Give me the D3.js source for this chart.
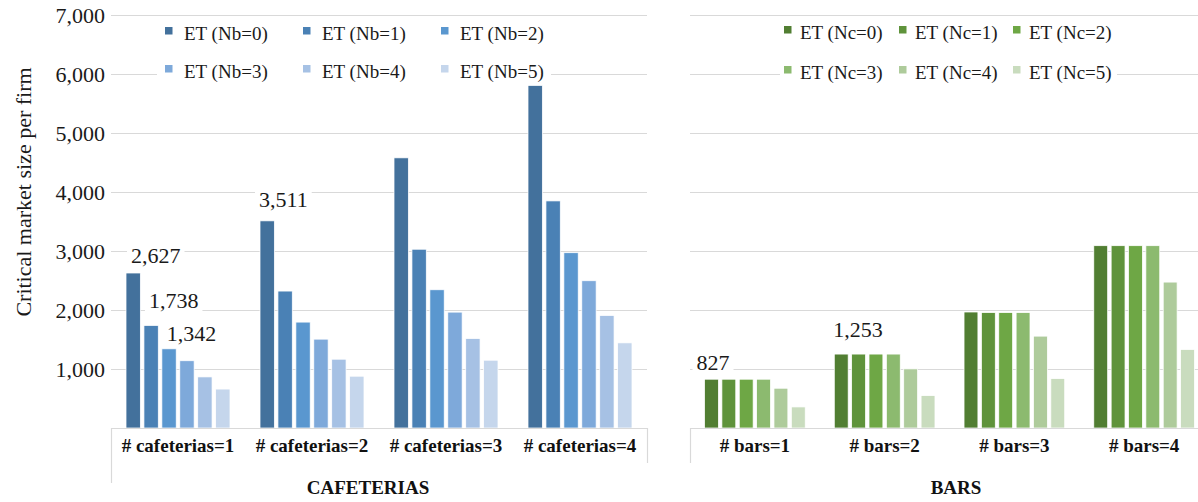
<!DOCTYPE html>
<html>
<head>
<meta charset="utf-8">
<script src="https://cdn.jsdelivr.net/npm/d3@7/dist/d3.min.js"></script>
<style>
  html, body { margin: 0; padding: 0; background: #fff; }
  svg { display: block; }
  svg text { font-family: "Liberation Serif", "Times New Roman", Times, "DejaVu Serif", serif !important; }
</style>
</head>
<body>
<svg id="chart" width="1198" height="502"></svg>
<script>
// Categories and series
const cafCategories = ["# cafeterias=1", "# cafeterias=2", "# cafeterias=3", "# cafeterias=4"];
const barCategories = ["# bars=1", "# bars=2", "# bars=3", "# bars=4"];
const cafSeries = ["ET (Nb=0)", "ET (Nb=1)", "ET (Nb=2)", "ET (Nb=3)", "ET (Nb=4)", "ET (Nb=5)"];
const barSeries = ["ET (Nc=0)", "ET (Nc=1)", "ET (Nc=2)", "ET (Nc=3)", "ET (Nc=4)", "ET (Nc=5)"];

// Critical market size per firm, one row per category, one value per series
const cafValues = [
  [2627, 1738, 1342, 1140, 866, 660],
  [3511, 2321, 1795, 1506, 1166, 878],
  [4579, 3030, 2343, 1964, 1516, 1149],
  [5806, 3849, 2971, 2496, 1907, 1443]
];
const barValues = [
  [827, 827, 827, 827, 674, 357],
  [1253, 1253, 1253, 1253, 1002, 549],
  [1966, 1956, 1956, 1956, 1557, 837],
  [3090, 3090, 3090, 3090, 2473, 1330]
];

const yTicks = [1000, 2000, 3000, 4000, 5000, 6000, 7000];
const groupTitles = ["CAFETERIAS", "BARS"];
const yTitle = "Critical market size per firm";

const cafColors = ["#43719c", "#4a81b5", "#5a97cf", "#7ea9da", "#a6c1e4", "#c5d6ec"];
const barColors = ["#517e32", "#5f933b", "#6ea745", "#8cba6f", "#aecb9b", "#c9dcbe"];

const svg = d3.select("#chart");
const fmt = d3.format(",");
const gridColor = "#d9d9d9";
const serif = "'Liberation Serif', 'Times New Roman', serif";

const y = d3.scaleLinear().domain([0, 7000]).range([428, 15]);

// Y axis tick labels (no axis line)
const yAxis = svg.append("g")
  .attr("transform", "translate(105,0)")
  .call(d3.axisLeft(y).tickValues(yTicks).tickSize(0).tickPadding(0).tickFormat(fmt))
  .attr("font-family", serif);
yAxis.select(".domain").remove();
yAxis.selectAll("text")
  .attr("font-size", 22)
  .attr("fill", "#1a1a1a");

// Y axis title
svg.append("text")
  .attr("transform", "translate(31,192) rotate(-90)")
  .attr("text-anchor", "middle")
  .attr("font-size", 22)
  .attr("fill", "#1a1a1a")
  .text(yTitle);

const panels = [
  { cats: cafCategories, series: cafSeries, values: cafValues, colors: cafColors,
    x0: 111, x1: 647, clipRight: 647, leftTickBottom: 483, rightTickBottom: 463,
    title: groupTitles[0], titleX: 368,
    legend: { cols: [165, 303, 441], textDx: 19, rows: [33, 71], box: [157, 20, 394, 63] },
    labels: [ { g: 0, s: 0, dx: 5, dy: -10 }, { g: 0, s: 1, dx: 5, dy: -17 },
              { g: 0, s: 2, dx: 5, dy: -8 }, { g: 1, s: 0, dx: -1, dy: -14 } ] },
  { cats: barCategories, series: barSeries, values: barValues, colors: barColors,
    x0: 690, x1: 1209, clipRight: 1198, leftTickBottom: 463, rightTickBottom: 463,
    title: groupTitles[1], titleX: 956,
    legend: { cols: [784, 899, 1013], textDx: 16, rows: [32, 72], box: [780, 20, 337, 63] },
    labels: [ { g: 0, s: 0, dx: -8, dy: -9 }, { g: 1, s: 0, dx: -1, dy: -17 } ] }
];

panels.forEach(p => {
  const g = svg.append("g");
  const x0 = d3.scaleBand().domain(p.cats).range([p.x0, p.x1]).padding(0);
  const bw = x0.bandwidth();
  const x1 = d3.scaleBand().domain(d3.range(p.series.length))
    .range([bw * 0.112, bw * 0.888]).paddingInner(0.2).paddingOuter(0);

  // Horizontal gridlines
  const grid = g.append("g")
    .attr("transform", `translate(${p.x0},0)`)
    .call(d3.axisLeft(y).tickValues(yTicks).tickSize(-(p.clipRight - p.x0)).tickFormat(""));
  grid.select(".domain").remove();
  grid.selectAll("line").attr("stroke", gridColor).attr("stroke-width", 1.2);

  // Legend backing (sits under the bars)
  const L = p.legend;
  g.append("rect")
    .attr("x", L.box[0]).attr("y", L.box[1])
    .attr("width", L.box[2]).attr("height", L.box[3])
    .attr("fill", "#fff");

  // Bars
  p.values.forEach((row, gi) => {
    g.append("g")
      .attr("transform", `translate(${x0(p.cats[gi])},0)`)
      .selectAll("rect")
      .data(row)
      .join("rect")
      .attr("x", (d, i) => x1(i))
      .attr("width", x1.bandwidth())
      .attr("y", d => y(d))
      .attr("height", d => y(0) - y(d))
      .attr("fill", (d, i) => p.colors[i])
      .attr("stroke", "#ffffff")
      .attr("stroke-width", 0.75);
  });

  // Category axis frame
  g.append("line")
    .attr("x1", p.x0).attr("x2", Math.min(p.x1, p.clipRight))
    .attr("y1", y(0) + 0.5).attr("y2", y(0) + 0.5)
    .attr("stroke", gridColor).attr("stroke-width", 1.2);
  g.append("line")
    .attr("x1", p.x0 + 0.5).attr("x2", p.x0 + 0.5)
    .attr("y1", y(0)).attr("y2", p.leftTickBottom)
    .attr("stroke", gridColor).attr("stroke-width", 1.2);
  if (p.x1 <= p.clipRight) {
    g.append("line")
      .attr("x1", p.x1 + 0.5).attr("x2", p.x1 + 0.5)
      .attr("y1", y(0)).attr("y2", p.rightTickBottom)
      .attr("stroke", gridColor).attr("stroke-width", 1.2);
  }

  // Category labels
  const xAxis = g.append("g")
    .attr("transform", `translate(0,${y(0)})`)
    .call(d3.axisBottom(x0).tickSize(0).tickPadding(11))
    .attr("font-family", serif);
  xAxis.select(".domain").remove();
  xAxis.selectAll("text")
    .attr("font-size", 19)
    .attr("font-weight", "bold")
    .attr("fill", "#111")
    .attr("dy", "0.71em");

  // Group title
  g.append("text")
    .attr("x", p.titleX).attr("y", 494)
    .attr("text-anchor", "middle")
    .attr("font-size", 19).attr("font-weight", "bold")
    .attr("fill", "#111")
    .text(p.title);

  // Data labels with white backing
  p.labels.forEach(l => {
    const v = p.values[l.g][l.s];
    const bx = x0(p.cats[l.g]) + x1(l.s);
    const lg = g.append("g");
    const t = lg.append("text")
      .attr("x", bx + l.dx).attr("y", y(v) + l.dy)
      .attr("font-size", 22).attr("fill", "#1a1a1a")
      .text(fmt(v));
    const bb = t.node().getBBox();
    lg.insert("rect", "text")
      .attr("x", bb.x - 4).attr("y", bb.y)
      .attr("width", bb.width + 8).attr("height", bb.height)
      .attr("fill", "#fff");
  });

  // Legend entries
  p.series.forEach((s, i) => {
    const cx = L.cols[i % 3];
    const cy = L.rows[Math.floor(i / 3)];
    g.append("rect")
      .attr("x", cx).attr("y", cy - 6)
      .attr("width", 7.5).attr("height", 7.5)
      .attr("fill", p.colors[i]);
    g.append("text")
      .attr("x", cx + L.textDx).attr("y", cy)
      .attr("dy", "0.35em")
      .attr("font-size", 19).attr("fill", "#1a1a1a")
      .text(s);
  });
});
</script>
</body>
</html>
